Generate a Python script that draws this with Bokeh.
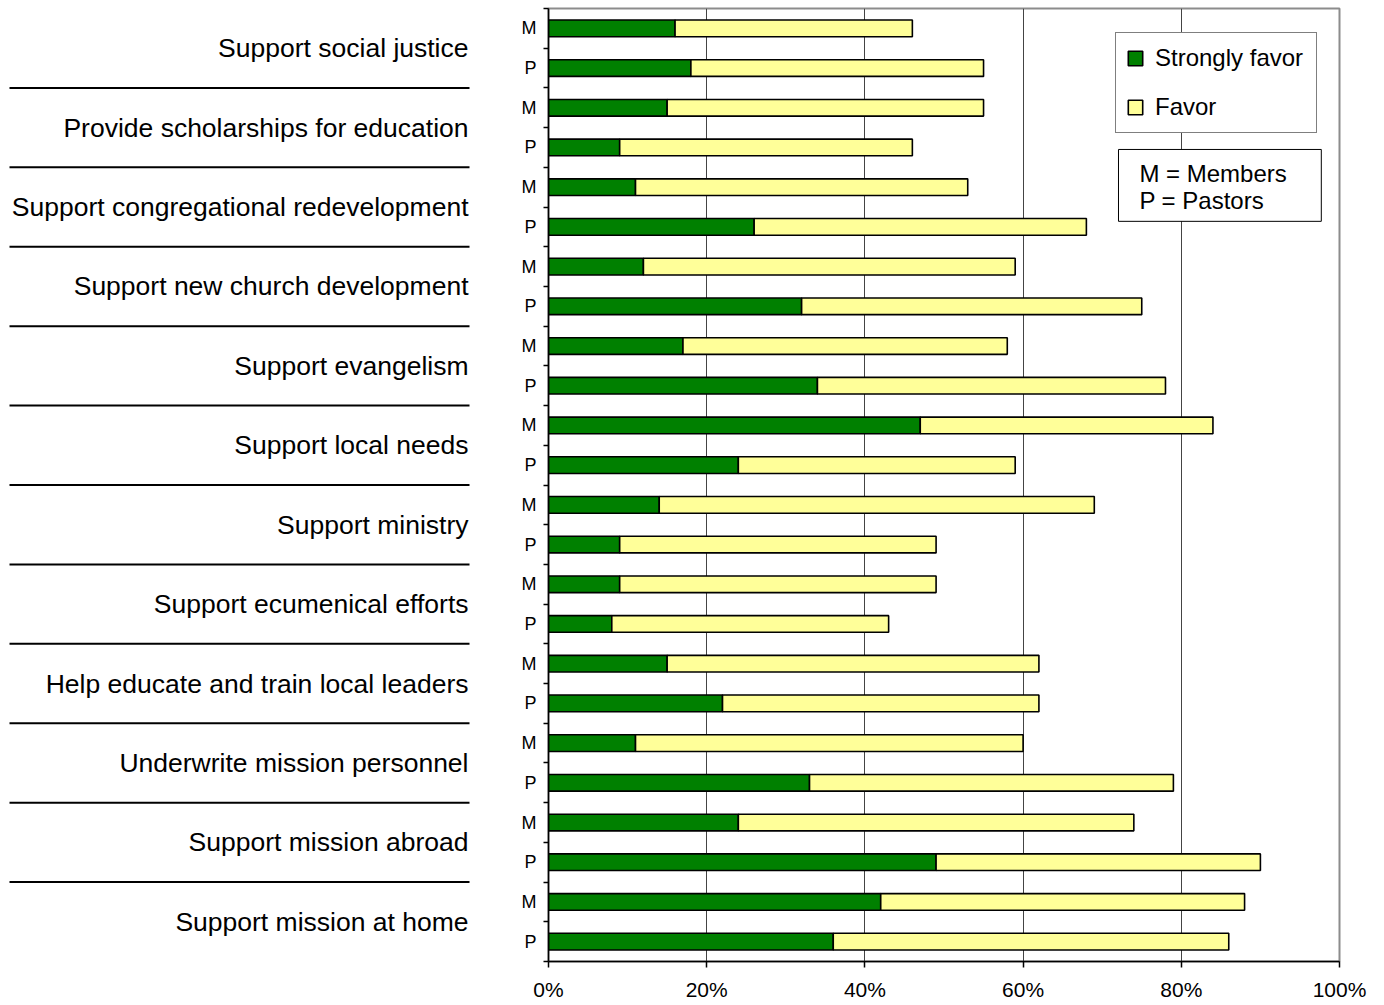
from bokeh.plotting import figure
from bokeh.models import (ColumnDataSource, Range1d, FixedTicker, Legend, LegendItem,
                          BoxAnnotation, Label, PrintfTickFormatter)
from bokeh.layouts import row
from bokeh.embed import file_html
from bokeh.resources import INLINE
from bokeh.core.properties import value

# ---------------- data ----------------
categories = [
    "Support social justice",
    "Provide scholarships for education",
    "Support congregational redevelopment",
    "Support new church development",
    "Support evangelism",
    "Support local needs",
    "Support ministry",
    "Support ecumenical efforts",
    "Help educate and train local leaders",
    "Underwrite mission personnel",
    "Support mission abroad",
    "Support mission at home",
]
members_strong = [16, 15, 11, 12, 17, 47, 14, 9, 15, 11, 24, 42]
members_favor = [30, 40, 42, 47, 41, 37, 55, 40, 47, 49, 50, 46]
pastors_strong = [18, 9, 26, 32, 34, 24, 9, 8, 22, 33, 49, 36]
pastors_favor = [37, 37, 42, 43, 44, 35, 40, 35, 40, 46, 41, 50]
group_labels = ["M", "P"]
series_names = ["Strongly favor", "Favor"]
x_ticks = [0, 20, 40, 60, 80, 100]
x_tick_labels = ["0%", "20%", "40%", "60%", "80%", "100%"]
key_lines = ["M = Members", "P = Pastors"]

FONT = "Liberation Sans"
GREEN = "#008000"
YELLOW = "#FFFF99"

# ---------------- build rows ----------------
row_y, row_lab, strong, total = [], [], [], []
for i in range(len(categories)):
    pairs = [(members_strong[i], members_favor[i]), (pastors_strong[i], pastors_favor[i])]
    for j, (s, f) in enumerate(pairs):
        row_y.append(2 * i + j + 0.5)
        row_lab.append(group_labels[j])
        strong.append(s)
        total.append(s + f)
n_rows = len(row_y)
src = ColumnDataSource(dict(y=row_y, strong=strong, total=total))

H = 1003
BT, BB = 8, 41

# ---------------- main chart ----------------
p2 = figure(width=862, height=H, x_range=Range1d(0, 100), y_range=Range1d(n_rows, 0),
            output_backend="svg", toolbar_location=None,
            min_border_left=40, min_border_right=31, min_border_top=BT, min_border_bottom=BB)
p2.outline_line_color = "#8c8c8c"
p2.outline_line_width = 2

r1 = p2.hbar(y="y", left=0, right="strong", height=0.42, fill_color=GREEN,
             line_color="black", line_width=1.6, source=src)
r2 = p2.hbar(y="y", left="strong", right="total", height=0.42, fill_color=YELLOW,
             line_color="black", line_width=1.6, source=src)

xa = p2.xaxis[0]
xa.ticker = FixedTicker(ticks=x_ticks)
xa.formatter = PrintfTickFormatter(format="%d%%")
xa.major_label_overrides = dict(zip(x_ticks, x_tick_labels))
xa.major_label_text_font = FONT
xa.major_label_text_font_size = "21px"
xa.major_label_text_color = "black"
xa.major_tick_out = 6
xa.major_tick_in = 0
xa.major_tick_line_color = "black"
xa.major_tick_line_width = 1.5
xa.minor_tick_line_color = None
xa.axis_line_color = "black"
xa.axis_line_width = 1.5
xa.major_label_standoff = 10

ya = p2.yaxis[0]
ya.ticker = FixedTicker(ticks=row_y, minor_ticks=list(range(n_rows + 1)))
ya.major_label_overrides = {float(y): lab for y, lab in zip(row_y, row_lab)}
ya.major_label_text_font = FONT
ya.major_label_text_font_size = "18px"
ya.major_label_text_color = "black"
ya.major_tick_line_color = None
ya.major_tick_out = 5
ya.major_label_standoff = 7
ya.minor_tick_out = 5
ya.minor_tick_in = 0
ya.minor_tick_line_color = "black"
ya.minor_tick_line_width = 1.5
ya.axis_line_color = "black"
ya.axis_line_width = 1.5

p2.ygrid.visible = False
p2.xgrid.grid_line_color = "#444444"
p2.xgrid.grid_line_width = 1

legend = Legend(items=[LegendItem(label=series_names[0], renderers=[r1]),
                       LegendItem(label=series_names[1], renderers=[r2])],
                location=(567, 828), orientation="vertical",
                border_line_color="black", border_line_width=1,
                background_fill_color="white", background_fill_alpha=1,
                padding=10, spacing=19, margin=0,
                glyph_width=18, glyph_height=18, label_standoff=11,
                label_height=30, label_width=151,
                label_text_font=FONT, label_text_font_size="24px",
                label_text_color="black")
p2.add_layout(legend)

box = BoxAnnotation(left=72.06, right=97.7, top=3.55, bottom=5.36,
                    fill_color="white", fill_alpha=1,
                    line_color="black", line_width=1, line_alpha=1)
p2.add_layout(box)
for k, txt in enumerate(key_lines):
    p2.add_layout(Label(x=74.7, y=4.15 + 0.68 * k, text=txt, text_baseline="middle",
                        text_align="left", text_font=FONT, text_font_size="24px",
                        text_color="black"))

# ---------------- category label panel ----------------
p1 = figure(width=508, height=H, x_range=Range1d(0, 508), y_range=p2.y_range,
            x_axis_location=None, y_axis_location=None,
            output_backend="svg", toolbar_location=None,
            min_border_left=0, min_border_right=0, min_border_top=BT, min_border_bottom=BB)
p1.outline_line_color = None
p1.grid.visible = False

cat_y = [2 * i + 1 for i in range(len(categories))]
p1.text(x=[468] * len(categories), y=cat_y, text=categories,
        text_align="right", text_baseline="middle",
        text_font=value(FONT), text_font_size="26.5px", text_color="black")
sep_y = [2 * i for i in range(1, len(categories))]
p1.segment(x0=[9] * len(sep_y), y0=sep_y, x1=[469] * len(sep_y), y1=sep_y,
           line_color="black", line_width=2)

layout = row(p1, p2)
open("out.html", "w").write(file_html(layout, INLINE))
